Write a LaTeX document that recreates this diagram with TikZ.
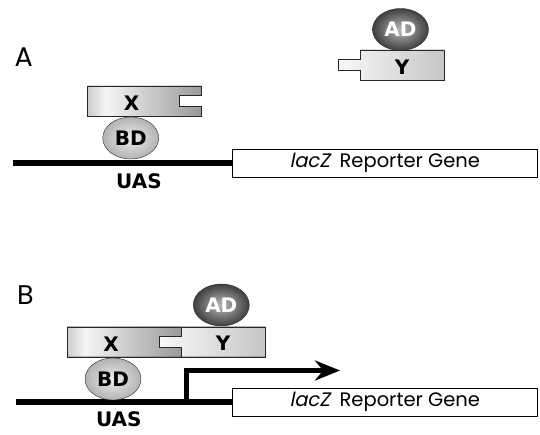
\documentclass[tikz,border=0pt]{standalone}
\usepackage{fontspec}
\setmainfont{Poppins}[AutoFakeSlant=0.2]
\newfontfamily\labelFont{DejaVu Sans}
\usetikzlibrary{positioning,shapes.geometric,arrows.meta}
\tikzstyle{diagram} = [x=1bp, y=-1bp]
\pgfdeclarehorizontalshading{xShade}{100bp}{color(0bp)=(gray!40); color(25bp)=(gray!40); color(33bp)=(gray!8); color(75bp)=(gray!80); color(100bp)=(gray!80)}
\tikzstyle{xBoxStyle} = [draw=black!85, shading=xShade, thin]
\tikzstyle{yBoxStyle} = [draw=black!85, left color=gray!5, right color=gray!45, thin]
\tikzstyle{domainStyle} = [ellipse, draw=black!85, thin, minimum width=56bp, minimum height=42bp, inner sep=0pt, font=\labelFont\bfseries\fontsize{20bp}{23bp}\selectfont]
\tikzstyle{adStyle} = [domainStyle, inner color=gray!55, outer color=black!75, text=white]
\tikzstyle{bdStyle} = [domainStyle, inner color=gray!15, outer color=gray!60]
\tikzstyle{proteinText} = [inner sep=0pt, font=\labelFont\bfseries\fontsize{20bp}{23bp}\selectfont]
\tikzstyle{uasText} = [proteinText]
\tikzstyle{dnaLine} = [line width=6bp]
\tikzstyle{reporterBox} = [draw, fill=white, thin, minimum width=304.5bp, minimum height=28bp, inner sep=0pt, font=\fontsize{19.5bp}{23bp}\selectfont]
\tikzstyle{panelText} = [inner sep=0pt, font=\fontsize{27bp}{30bp}\selectfont]
\tikzstyle{transcriptArrow} = [line width=5bp, -{Stealth[length=25bp, width=20bp]}]
\newcommand{\protW}{114}
\newcommand{\yW}{84}
\newcommand{\protH}{30}
\newcommand{\notchDepth}{22}
\newcommand{\notchTop}{9.5}
\newcommand{\notchBottom}{20.5}
\newcommand{\reporterText}{\textit{lacZ}\enspace Reporter Gene}
% protein X with its notch, #1,#2 = top left corner
\newcommand{\proteinX}[3]{
  \filldraw [xBoxStyle] (#1,#2) -- +(\protW,0) -- +(\protW,\notchTop) -- +(\protW-\notchDepth,\notchTop)
    -- +(\protW-\notchDepth,\notchBottom) -- +(\protW,\notchBottom) -- +(\protW,\protH) -- +(0,\protH) -- cycle;
  \node [proteinText] (#3) at (#1+44,#2+17.5) {X};
}
% protein Y with its tab, #1,#2 = top left corner of the box
\newcommand{\proteinY}[3]{
  \filldraw [yBoxStyle] (#1,#2) -- +(\yW,0) -- +(\yW,\protH) -- +(0,\protH) -- +(0,\notchBottom)
    -- +(-\notchDepth,\notchBottom) -- +(-\notchDepth,\notchTop) -- +(0,\notchTop) -- cycle;
  \node [proteinText] (#3) at (#1+42,#2+17) {Y};
}

\begin{document}
\begin{tikzpicture}[diagram]
  \useasboundingbox (0,0) rectangle (540,435);
  % A: no interaction
  \node [panelText] (panelA) at (23.6,57) {A};
  \node [reporterBox] (reporterA) at (384.75,163) {\reporterText};
  \coordinate (dnaStartA) at (12.7,163);
  \draw [dnaLine] (dnaStartA) -- (reporterA.west);
  \node [uasText] (uasA) at (139,181) {UAS};
  \proteinX{87.5}{86}{xA}
  \proteinY{360}{50}{yA}
  \node [bdStyle] (bdA) at (130.7,138) {BD};
  \node [adStyle] (adA) at (400.5,29.5) {AD};
  % B: X and Y bound, transcription on
  \node [panelText] (panelB) at (25.3,295) {B};
  \node [reporterBox] (reporterB) at (384.75,402) {\reporterText};
  \coordinate (dnaStartB) at (15.5,402);
  \draw [dnaLine] (dnaStartB) -- (reporterB.west);
  \node [uasText] (uasB) at (118.8,419) {UAS};
  \coordinate (promoterB) at (186,402);
  \coordinate (arrowTipB) at (340,370.5);
  \draw [transcriptArrow] (promoterB) |- (arrowTipB);
  \proteinX{67}{326.7}{xB}
  \proteinY{181}{326.7}{yB}
  \node [bdStyle] (bdB) at (113,379) {BD};
  \node [adStyle] (adB) at (221.3,305) {AD};
\end{tikzpicture}
\end{document}
